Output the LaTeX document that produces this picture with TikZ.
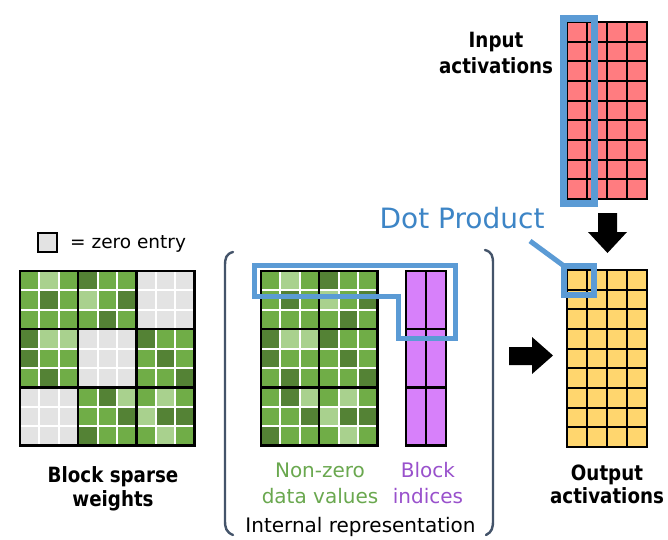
\documentclass[tikz,border=0pt]{standalone}
\usepackage{fontspec}
\setmainfont{DejaVu Sans}
\newfontfamily\lblfont[FakeStretch=0.87]{DejaVu Sans Bold}
\definecolor{gM}{RGB}{112,173,71}
\definecolor{gD}{RGB}{84,130,53}
\definecolor{gL}{RGB}{169,209,142}
\definecolor{gG}{RGB}{227,227,227}
\definecolor{hiblue}{RGB}{91,155,213}
\definecolor{dpblue}{RGB}{61,133,198}
\definecolor{redc}{RGB}{255,124,128}
\definecolor{yelc}{RGB}{255,214,110}
\definecolor{purc}{RGB}{215,128,250}
\definecolor{purtxt}{RGB}{153,81,204}
\definecolor{grntxt}{RGB}{106,168,79}
\definecolor{brk}{RGB}{68,84,106}
\begin{document}
\begin{tikzpicture}[x=1pt,y=-1pt,
  lbl/.style={font=\fontsize{21}{25}\lblfont, anchor=base, inner sep=0pt},
  txt/.style={font=\fontsize{20}{24}\selectfont, anchor=base, inner sep=0pt},
  hi/.style={draw=hiblue, line join=miter},
  gridline/.style={line width=2pt, draw=black},
  blockline/.style={line width=2.4pt, draw=black},
  bracket/.style={draw=brk, line width=2.4pt, line cap=round},
  blockarrow/.style={fill=black}]
\useasboundingbox[fill=white] (0,0) rectangle (668,539);

% ---------- legend ----------
\node[draw=black, line width=2pt, fill=gG, minimum width=19pt, minimum height=19pt, inner sep=0pt] (legsq) at (47,242.5) {};
\node[font=\fontsize{18.5}{22}\selectfont, anchor=base west, inner sep=0pt] (legtxt) at (70,248) {= zero entry};

% ---------- block sparse weights ----------
\foreach \row [count=\ri from 0] in {
  {M,L,M,D,M,M,G,G,G},
  {M,D,M,L,M,D,G,G,G},
  {M,M,M,M,D,M,G,G,G},
  {D,L,L,G,G,G,D,M,M},
  {D,M,M,G,G,G,M,D,M},
  {M,D,M,G,G,G,M,M,D},
  {G,G,G,M,D,L,M,L,M},
  {G,G,G,M,M,D,L,D,D},
  {G,G,G,D,M,M,M,L,M}} {
  \foreach \c [count=\ci from 0] in \row {
    \fill[g\c] ({20+\ci*19.4+1},{271+\ri*19.4+1}) rectangle ++(17.4,17.4);
  }
}
\foreach \i in {1,2} {
  \draw[blockline] ({20+\i*58.2},271) -- ++(0,174.6);
  \draw[blockline] (20,{271+\i*58.2}) -- ++(174.6,0);
}
\draw[blockline] (20,271) rectangle (194.6,445.6);

\node[lbl] (bsw1) at (113,482) {Block sparse};
\node[lbl] (bsw2) at (113,506) {weights};

% ---------- non-zero data values ----------
\foreach \row [count=\ri from 0] in {
  {M,L,M,D,M,M},
  {M,D,M,L,M,D},
  {M,M,M,M,D,M},
  {D,L,L,D,M,M},
  {D,M,M,M,D,M},
  {M,D,M,M,M,D},
  {M,D,L,M,L,M},
  {M,M,D,L,D,D},
  {D,M,M,M,L,M}} {
  \foreach \c [count=\ci from 0] in \row {
    \fill[g\c] ({261+\ci*19.4+1},{271+\ri*19.4+1}) rectangle ++(17.4,17.4);
  }
}
\draw[blockline] (319.2,271) -- ++(0,174.6);
\foreach \i in {1,2} {
  \draw[blockline] (261,{271+\i*58.2}) -- ++(116.4,0);
}
\draw[blockline] (261,271) rectangle (377.4,445.6);

% ---------- block indices ----------
\fill[purc] (406,271) rectangle (446,445.6);
\draw[blockline] (426,271) -- (426,445.6);
\draw[blockline] (406,329.2) -- (446,329.2);
\draw[blockline] (406,387.4) -- (446,387.4);
\draw[blockline] (406,271) rectangle (446,445.6);

% highlight of one block row
\draw[hi, line width=5pt] (254.5,265) -- (455.5,265) -- (455.5,338.5) -- (398,338.5) -- (398,296.5) -- (254.5,296.5) -- cycle;

% labels of internal representation
\node[txt, text=grntxt] (nz1) at (320,477) {Non-zero};
\node[txt, text=grntxt] (nz2) at (320,503) {data values};
\node[txt, text=purtxt] (bi1) at (428,477) {Block};
\node[txt, text=purtxt] (bi2) at (428,503) {indices};
\node[txt] (ir) at (360.5,532) {Internal representation};

% brackets
\draw[bracket] (233,252) .. controls (226,254) and (225,258) .. (225,266) -- (225,520) .. controls (225,528) and (226,532) .. (233,535);
\draw[bracket] (485,250) .. controls (492,252) and (493,256) .. (493,264) -- (493,520) .. controls (493,528) and (492,532) .. (486,535);

% ---------- input activations ----------
\fill[redc] (567,22) rectangle (647,199);
\foreach \i in {0,...,4} { \draw[gridline] ({567+\i*20},22) -- ({567+\i*20},199); }
\foreach \j in {0,...,9} { \draw[gridline] (566,{22+\j*19.667}) -- (648,{22+\j*19.667}); }
\draw[hi, line width=7pt] (563.5,18) rectangle (594,203);
\node[lbl] (in1) at (496,47) {Input};
\node[lbl] (in2) at (496,73) {activations};

% down arrow
\fill[blockarrow] (598,213) -- (617,213) -- (617,232) -- (627,232) -- (607.5,253) -- (588,232) -- (598,232) -- cycle;

% ---------- output activations ----------
\fill[yelc] (567,270) rectangle (647,447);
\foreach \i in {0,...,4} { \draw[gridline] ({567+\i*20},270) -- ({567+\i*20},447); }
\foreach \j in {0,...,9} { \draw[gridline] (566,{270+\j*19.667}) -- (648,{270+\j*19.667}); }
\node[hi, line width=6pt, minimum width=30pt, minimum height=29pt, inner sep=0pt, outer sep=0pt] (dpsq) at (579,280.5) {};
\node[lbl] (out1) at (607,480) {Output};
\node[lbl] (out2) at (607,503) {activations};

% right arrow
\fill[blockarrow] (509,347) -- (532,347) -- (532,337) -- (553,355.5) -- (532,374) -- (532,365) -- (509,365) -- cycle;

% ---------- dot product ----------
\node[font=\fontsize{28}{32}\selectfont, text=dpblue, anchor=base, inner sep=0pt] (dp) at (462,228) {Dot Product};
\coordinate (dptail) at (530,241);
\draw[draw=hiblue, line width=5pt] (dptail) -- (dpsq.north west);
\end{tikzpicture}
\end{document}
